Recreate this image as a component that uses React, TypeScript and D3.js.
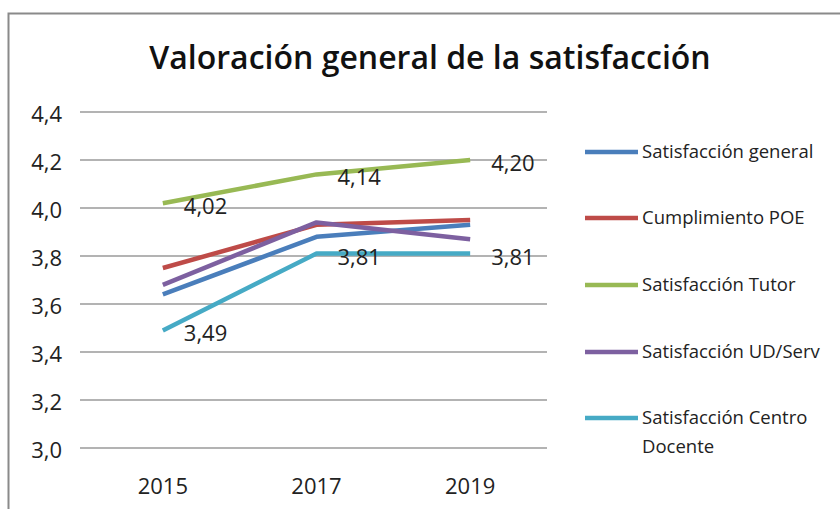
import React from "react";
import * as d3 from "d3";

const years = ["2015", "2017", "2019"];
const seriesNames = [
  "Satisfacción general",
  "Cumplimiento POE",
  "Satisfacción Tutor",
  "Satisfacción UD/Serv",
  "Satisfacción Centro Docente",
];
const generalValues = [3.64, 3.88, 3.93];
const poeValues = [3.75, 3.93, 3.95];
const tutorValues = [4.02, 4.14, 4.2];
const udServValues = [3.68, 3.94, 3.87];
const centroValues = [3.49, 3.81, 3.81];
const seriesColors = ["#4a7ebb", "#be4b48", "#98b954", "#7d60a0", "#46aac5"];
const yTicks = [3.0, 3.2, 3.4, 3.6, 3.8, 4.0, 4.2, 4.4];
const labeledSeries = [2, 4];

const FONT = "'Open Sans', sans-serif";

export default function App() {
  const W = 840, H = 509;
  const left = 86, right = 547, top = 112, bottom = 448;
  const all = [generalValues, poeValues, tutorValues, udServValues, centroValues];
  const x = d3.scaleBand().domain(years).range([left, right]);
  const y = d3.scaleLinear().domain([3.0, 4.4]).range([bottom, top]);
  const cx = (yr: string) => (x(yr) as number) + x.bandwidth() / 2;
  const line = d3.line<number>().x((_, i) => cx(years[i])).y((d) => y(d));
  const fmt = (v: number, dec: number) => v.toFixed(dec).replace(".", ",");
  const legendY = [152, 218, 285, 352, 418];

  return (
    <svg width={W} height={H} style={{ position: "absolute", left: 0, top: 0, background: "#fff" }}>
      <rect x={0} y={0} width={W} height={H} fill="#fff" />
      <path d={`M8.5,${H} L8.5,13.5 L${W},13.5`} fill="none" stroke="#8a8a8a" strokeWidth={2} />
      <text x={430} y={69} textAnchor="middle" fontFamily={FONT} fontSize={32} fontWeight={600} fill="#111">
        Valoración general de la satisfacción
      </text>
      {yTicks.map((t) => (
        <g key={t}>
          <line x1={80} x2={right} y1={y(t)} y2={y(t)} stroke="#9a9a9a" strokeWidth={1.5} />
          <text x={62} y={y(t) + 10} textAnchor="end" fontFamily={FONT} fontSize={22} fill="#222">
            {fmt(t, 1)}
          </text>
        </g>
      ))}
      {years.map((yr) => (
        <text key={yr} x={cx(yr)} y={494} textAnchor="middle" fontFamily={FONT} fontSize={22} fill="#222">
          {yr}
        </text>
      ))}
      {all.map((vals, si) => (
        <path key={si} d={line(vals) || ""} fill="none" stroke={seriesColors[si]} strokeWidth={4.5} strokeLinejoin="round" />
      ))}
      {labeledSeries.map((si) =>
        all[si].map((v, i) => (
          <text key={`${si}-${i}`} x={cx(years[i]) + 21} y={y(v) + 11} fontFamily={FONT} fontSize={22} fill="#222">
            {fmt(v, 2)}
          </text>
        ))
      )}
      {seriesNames.map((name, si) => {
        const ly = legendY[si];
        const words = name === "Satisfacción Centro Docente" ? ["Satisfacción Centro", "Docente"] : [name];
        return (
          <g key={name}>
            <line x1={585} x2={638} y1={ly} y2={ly} stroke={seriesColors[si]} strokeWidth={4.5} />
            {words.map((w, k) => (
              <text key={k} x={642} y={ly + 6 + k * 29} fontFamily={FONT} fontSize={18.5} fill="#222">
                {w}
              </text>
            ))}
          </g>
        );
      })}
    </svg>
  );
}
